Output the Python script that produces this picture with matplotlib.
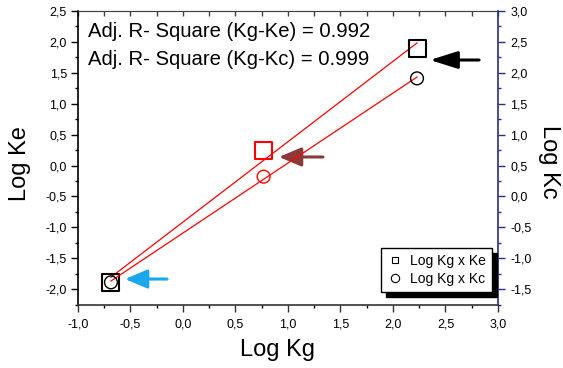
import matplotlib.pyplot as plt
import numpy as np
from matplotlib.lines import Line2D
from matplotlib.ticker import MultipleLocator, FuncFormatter

plt.rcParams['font.family'] = ['Liberation Sans', 'DejaVu Sans']

# Values
log_kg = [-0.686, 0.768, 2.229]
log_ke = [-1.89, 0.25, 1.90]
log_kc = [-1.39, 0.32, 1.91]
r2_texts = ["Adj. R- Square (Kg-Ke) = 0.992", "Adj. R- Square (Kg-Kc) = 0.999"]
legend_labels = ["Log Kg x Ke", "Log Kg x Kc"]

# arrows pointing at the points (tail x, tip x, y on the Log Ke axis)
arrow_tail_x = [2.82, 1.333, -0.152]
arrow_tip_x = [2.352, 0.914, -0.552]
arrow_y = [1.707, 0.138, -1.837]
arrow_colors = ["black", "#8b3a3a", "#1aa7ec"]

point_colors = ["black", "red", "black"]
navy = "#2b2b8c"


def comma(v, pos):
    if abs(v) < 1e-9:
        v = 0.0
    return f"{v:.1f}".replace(".", ",")


fig = plt.figure(figsize=(5.63, 3.68), dpi=100)
ax = fig.add_axes([0.1385, 0.1712, 0.746, 0.7989])
ax2 = ax.twinx()

ax.set_xlim(-1.0, 3.0)
ax.set_ylim(-2.257, 2.5)
ax2.set_ylim(-1.757, 3.0)

# fitted lines
x = np.array(log_kg)
for yv, a in [(log_ke, ax), (log_kc, ax2)]:
    k, b = np.polyfit(x, yv, 1)
    xs = np.array([x.min(), x.max()])
    a.plot(xs, k * xs + b, color="red", lw=0.9, zorder=3)

ax.scatter(log_kg, log_ke, marker="s", s=150, facecolors="none",
           edgecolors=point_colors, linewidths=1.5, zorder=4)
ax2.scatter(log_kg, log_kc, marker="o", s=85, facecolors="none",
            edgecolors=point_colors, linewidths=1.0, zorder=4)

# arrows
for tx, hx, y, c in zip(arrow_tail_x, arrow_tip_x, arrow_y, arrow_colors):
    big = c == "black"
    style = "-|>,head_length=%s,head_width=%s" % ((1.05, 0.33) if big else (0.85, 0.36))
    ax.annotate("", xy=(hx, y), xytext=(tx, y),
                arrowprops=dict(arrowstyle=style, color=c, lw=2.2,
                                mutation_scale=16, shrinkA=0, shrinkB=0))

# R-square texts
ax.text(0.024, 0.912, r2_texts[0], transform=ax.transAxes, fontsize=14.6, va="baseline")
ax.text(0.024, 0.816, r2_texts[1], transform=ax.transAxes, fontsize=14.6, va="baseline")

# ticks and spines
fmt = FuncFormatter(comma)
ax.xaxis.set_major_locator(MultipleLocator(0.5))
ax.xaxis.set_minor_locator(MultipleLocator(0.25))
ax.yaxis.set_major_locator(MultipleLocator(0.5))
ax.yaxis.set_minor_locator(MultipleLocator(0.25))
ax2.yaxis.set_major_locator(MultipleLocator(0.5))
ax2.yaxis.set_minor_locator(MultipleLocator(0.25))
ax.xaxis.set_major_formatter(fmt)
ax.yaxis.set_major_formatter(fmt)
ax2.yaxis.set_major_formatter(fmt)

ax.tick_params(axis="both", which="major", direction="out", length=5, width=1,
               labelsize=9, top=False, right=False)
ax.tick_params(axis="both", which="minor", direction="out", length=2.5, width=1,
               top=False, right=False)
ax.tick_params(axis="x", pad=5, colors="#333333", labelcolor="black")
ax.tick_params(axis="y", pad=3)
ax2.tick_params(axis="y", which="major", direction="out", length=5, width=1,
                labelsize=9, color=navy, labelcolor="black", pad=4)
ax2.tick_params(axis="y", which="minor", direction="out", length=2.5, width=1, color=navy)

top = ax.secondary_xaxis("top")
top.xaxis.set_major_locator(MultipleLocator(0.25))
top.tick_params(direction="in", length=3.5, width=1, labeltop=False, color="#444444")
top.spines["top"].set_color("#444444")

for s in ["left", "top", "bottom"]:
    ax2.spines[s].set_visible(False)
ax.spines["right"].set_visible(False)
ax2.spines["right"].set_color(navy)
ax2.spines["right"].set_linewidth(1.2)
ax.spines["left"].set_linewidth(1.2)
ax.spines["bottom"].set_linewidth(1.2)
ax.spines["bottom"].set_color("#333333")
ax.spines["top"].set_color("#444444")

# axis labels
ax.set_xlabel("Log Kg", fontsize=17)
ax.xaxis.set_label_coords(0.474, -0.153)
ax.xaxis.label.set_va("center")
ax.set_ylabel("Log Ke", fontsize=17, va="center")
ax.yaxis.set_label_coords(-0.138, 0.48)
ax2.set_ylabel("Log Kc", fontsize=17, rotation=-90, va="center")
ax2.yaxis.set_label_coords(1.121, 0.486)

# legend
handles = [Line2D([], [], ls="none", marker="s", ms=5, mfc="none", mec="black", mew=0.8),
           Line2D([], [], ls="none", marker="o", ms=6, mfc="none", mec="black", mew=0.8)]
leg = ax2.legend(handles, legend_labels, loc="lower right", bbox_to_anchor=(0.986, 0.044),
                 borderaxespad=0, fontsize=10, handlelength=1.0, handletextpad=0.6,
                 labelspacing=0.25, borderpad=0.45, fancybox=False, framealpha=1,
                 shadow={"color": "black", "alpha": 1, "ox": 3.5, "oy": -3.5})
leg.get_frame().set_edgecolor("black")
leg.get_frame().set_linewidth(1.0)

fig.savefig("out.png", dpi=100)
